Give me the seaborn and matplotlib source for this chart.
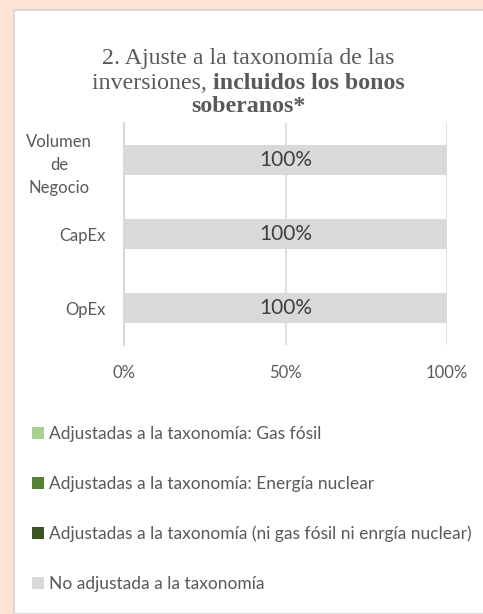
import numpy as np
import pandas as pd
import seaborn as sns
import matplotlib.pyplot as plt
import matplotlib.transforms as mtransforms
from matplotlib.patches import Rectangle, Patch

# Datos
categorias = ['Volumen\nde\nNegocio', 'CapEx', 'OpEx']
gas_fosil = [0, 0, 0]
energia_nuclear = [0, 0, 0]
ni_gas_ni_nuclear = [0, 0, 0]
no_ajustada = [100, 100, 100]
series = ['Adjustadas a la taxonomía: Gas fósil',
          'Adjustadas a la taxonomía: Energía nuclear',
          'Adjustadas a la taxonomía (ni gas fósil ni enrgía nuclear)',
          'No adjustada a la taxonomía']
colores = ['#A9D18E', '#548235', '#375623', '#D9D9D9']
xticks = [0, 50, 100]
xticklabels = ['0%', '50%', '100%']

sns.set_style('white')
plt.rcParams['font.family'] = ['Lato', 'DejaVu Sans']

fig = plt.figure(figsize=(4.83, 6.14), dpi=100)
fig.patch.set_facecolor('#FDE3D6')
W, H = 483, 614

# panel blanco (detrás de los ejes)
fig.patches.append(Rectangle((13.5 / W, 0), 1, 1 - 9.5 / H, transform=fig.transFigure,
                             facecolor='white', edgecolor='#D9D9D9', linewidth=1.5, zorder=-5))

ax = fig.add_axes([124 / W, 1 - 345 / H, (447 - 124) / W, (345 - 123) / H])
ax.set_facecolor('none')

df = pd.DataFrame({'cat': categorias, series[0]: gas_fosil, series[1]: energia_nuclear,
                   series[2]: ni_gas_ni_nuclear, series[3]: no_ajustada})
acum = df[series].cumsum(axis=1)

# barras apiladas: de la acumulada mayor a la menor
for i in range(len(series) - 1, -1, -1):
    sns.barplot(x=acum[series[i]], y=df['cat'], color=colores[i], orient='h',
                width=0.4, ax=ax, saturation=1, linewidth=0)

# etiquetas de los segmentos
for j, v in enumerate(no_ajustada):
    if v > 0:
        x0 = acum[series[2]].iloc[j]
        ax.text(x0 + v / 2, j, f'{v}%', ha='center', va='center', fontsize=15, color='#404040')

ax.set_xlim(0, 100)
ax.set_ylim(2.5, -0.5)
ax.set_xticks(xticks)
ax.set_xticklabels(xticklabels, fontsize=12, color='#595959')
ax.tick_params(axis='x', length=0, pad=14.5)
ax.tick_params(axis='y', which='major', length=0, pad=13, labelsize=12, labelcolor='#595959')
ax.set_yticks([-0.5, 0.5, 1.5, 2.5], minor=True)
ax.tick_params(axis='y', which='minor', length=5, width=1.2, color='#D9D9D9')
for lbl in ax.get_yticklabels():
    lbl.set_multialignment('center')
    if '\n' in lbl.get_text():
        # la etiqueta partida va centrada en su caja, algo más a la izquierda
        lbl.set_linespacing(1.55)
        lbl.set_transform(lbl.get_transform() +
                          mtransforms.ScaledTranslation(-14 / 100, 0, fig.dpi_scale_trans))
ax.set_xlabel('')
ax.set_ylabel('')
for s in ['top', 'right', 'bottom']:
    ax.spines[s].set_visible(False)
ax.spines['left'].set_color('#D9D9D9')
ax.spines['left'].set_linewidth(1.5)
for xv in xticks[1:]:
    ax.axvline(xv, color='#D9D9D9', linewidth=1.2, zorder=0)

# título con parte en negrita
tkw = dict(fontsize=17.2, color='#595959', family=['Liberation Serif'], ha='left', va='baseline')
cx = 248 / W
fig.text(cx, 1 - 64 / H, '2. Ajuste a la taxonomía de las', **{**tkw, 'ha': 'center'})
t1 = fig.text(0, 1 - 89 / H, 'inversiones, ', **tkw)
t2 = fig.text(0, 1 - 89 / H, 'incluidos los bonos', fontweight='bold', **tkw)
fig.text(cx, 1 - 112 / H, 'soberanos*', fontweight='bold', **{**tkw, 'ha': 'center'})
r = fig.canvas.get_renderer()
w1 = t1.get_window_extent(r).width / W
w2 = t2.get_window_extent(r).width / W
x0 = cx - (w1 + w2) / 2
t1.set_x(x0)
t2.set_x(x0 + w1)

# leyenda
handles = [Patch(facecolor=c, edgecolor='none') for c in colores]
fig.legend(handles, series, loc='upper left', bbox_to_anchor=(25 / W, 1 - 419 / H),
           frameon=False, fontsize=12.5, labelcolor='#595959', handlelength=0.72,
           handleheight=0.72, handletextpad=0.28, labelspacing=1.95, borderaxespad=0)

fig.savefig('out.png', dpi=100, facecolor=fig.get_facecolor())
